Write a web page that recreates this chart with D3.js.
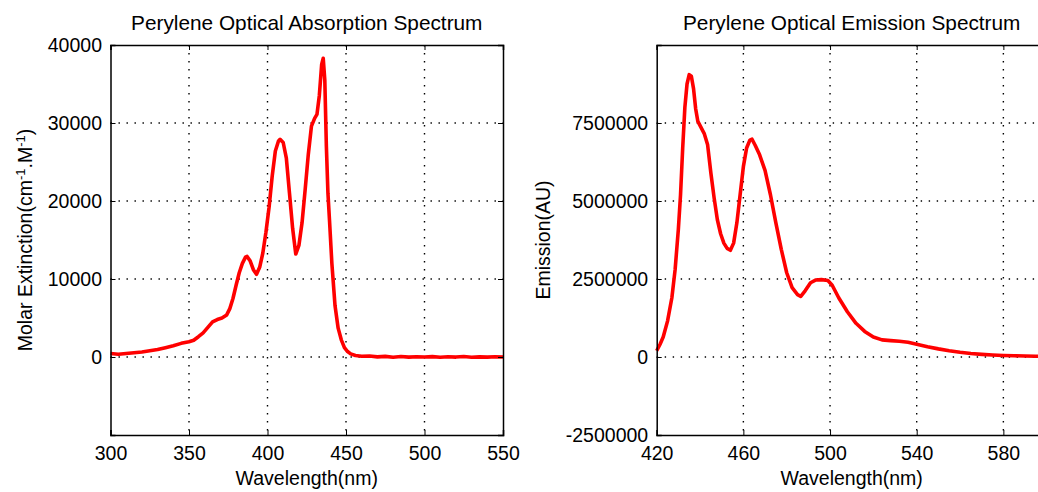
<!DOCTYPE html>
<html>
<head>
<meta charset="utf-8">
<script src="https://cdn.jsdelivr.net/npm/d3@7"></script>
<style>
  html, body { margin: 0; padding: 0; background: #fff; }
  svg { display: block; }
  text { font-family: "Liberation Sans", Arial, Helvetica, sans-serif; fill: #000; }
</style>
</head>
<body>
<svg id="chart" width="1038" height="492"></svg>
<script>
// ---------- Data ----------
const absWavelength = [300,305,310,315,320,325,330,335,340,345,350,353,356,359,362,365,368,371,374,376,378,380,382,384,386,387,389,391,393,395,397,399,401,403,405,407,408,410,412,414,416,418,420,422,424,426,428,430,431.5,433,434.5,435.5,436.5,437.5,438.5,439.5,441,443,445,447,449,451,453,456,460,465,470,475,480,485,490,495,500,505,510,515,520,525,530,535,540,545,550];
const absValue = [450,350,450,550,650,800,950,1200,1450,1750,1950,2150,2600,3100,3800,4500,4800,5000,5400,6200,7500,9200,10800,12000,12800,12900,12300,11200,10600,11500,13300,16000,19200,23200,26400,27700,27900,27500,25500,21000,16500,13200,14300,17200,21500,26000,29600,30600,31100,33500,37500,38300,35500,27000,21000,17500,12000,6600,3700,2200,1200,700,400,200,100,120,20,80,-30,60,-20,40,0,50,-40,30,-10,60,-30,20,-20,30,0];

const emWavelength = [420,421.5,423,425,427,428.5,430,431,432,433,434,435,436,437,438,439,440.5,442,443.5,445,446.5,448,449.5,451,452.5,454,455.5,457,458.5,460,461.5,463,464,465.5,467.5,470,472.5,475,477.5,480,482.5,485,486.5,488.5,491,493.5,496,499,501,504,508,512,516,520,524,528,532,536,540,545,550,555,560,565,570,575,580,585,590,595,600];
const emValue = [200000,400000,640000,1150000,1900000,2800000,4100000,5200000,6700000,8000000,8750000,9050000,9000000,8600000,7950000,7550000,7350000,7150000,6800000,5900000,5100000,4400000,3950000,3650000,3480000,3420000,3650000,4300000,5200000,6100000,6700000,6950000,6980000,6780000,6480000,5980000,5200000,4300000,3450000,2700000,2220000,2000000,1940000,2120000,2380000,2470000,2480000,2450000,2300000,1900000,1450000,1080000,820000,640000,550000,525000,505000,470000,410000,330000,260000,200000,150000,110000,85000,65000,50000,40000,32000,26000,20000];

const absXTicks = [300,350,400,450,500,550];
const absYTicks = [0,10000,20000,30000,40000];
const absYGrid = [0,10000,20000,30000];
const emXTicks = [420,460,500,540,580];
const emYTicks = [-2500000,0,2500000,5000000,7500000];
const emYGrid = [0,2500000,5000000,7500000];

const absTitle = "Perylene Optical Absorption Spectrum";
const emTitle = "Perylene Optical Emission Spectrum";
const xLabel = "Wavelength(nm)";

// ---------- Layout ----------
const svg = d3.select("#chart");
const plotTop = 45, plotBottom = 435;
const tickFont = 19.5, labelFont = 19.5, titleFont = 20.8;

function panel(opts) {
  const {x0, x1, xDomain, yDomain, xTicks, yTicks, yGrid, xs, ys, title} = opts;
  const x = d3.scaleLinear().domain(xDomain).range([x0, x1]);
  const y = d3.scaleLinear().domain(yDomain).range([plotBottom, plotTop]);
  const g = svg.append("g");

  // grid
  const grid = g.append("g")
    .attr("stroke", "#000").attr("stroke-width", 1.4)
    .attr("stroke-dasharray", "1.4,6.6").attr("fill", "none");
  grid.selectAll("line.vx").data(xTicks.filter(t => t !== xDomain[0] && t !== xDomain[1]))
    .join("line").attr("x1", d => x(d)).attr("x2", d => x(d))
    .attr("y1", plotTop).attr("y2", plotBottom);
  grid.selectAll("line.hy").data(yGrid)
    .join("line").attr("y1", d => y(d)).attr("y2", d => y(d))
    .attr("x1", x0).attr("x2", x1);

  // line
  const line = d3.line().x((d, i) => x(xs[i])).y((d, i) => y(ys[i]));
  g.append("path").datum(xs)
    .attr("d", line)
    .attr("fill", "none").attr("stroke", "#ff0000")
    .attr("stroke-width", 3.6).attr("stroke-linejoin", "round");

  // axes
  const fmt = d => String(d);
  const ax = g.append("g").attr("transform", `translate(0,${plotBottom})`)
    .call(d3.axisBottom(x).tickValues(xTicks).tickSize(-5).tickPadding(11).tickFormat(fmt));
  const at = g.append("g").attr("transform", `translate(0,${plotTop})`)
    .call(d3.axisTop(x).tickValues(xTicks).tickSize(-5).tickFormat(""));
  const ay = g.append("g").attr("transform", `translate(${x0},0)`)
    .call(d3.axisLeft(y).tickValues(yTicks).tickSize(-5).tickPadding(8.5).tickFormat(fmt));
  const ar = g.append("g").attr("transform", `translate(${x1},0)`)
    .call(d3.axisRight(y).tickValues(yTicks).tickSize(-5).tickFormat(""));
  [ax, at, ay, ar].forEach(a => {
    a.select(".domain").attr("stroke", "#000").attr("stroke-width", 1.5);
    a.selectAll(".tick line").attr("stroke", "#000").attr("stroke-width", 1);
    a.selectAll("text").style("font-size", tickFont + "px")
      .style("font-family", '"Liberation Sans", Arial, sans-serif').attr("fill", "#000");
  });

  // title
  g.append("text").attr("x", (x0 + x1) / 2).attr("y", 30)
    .attr("text-anchor", "middle").style("font-size", titleFont + "px").text(title);
  // x label
  g.append("text").attr("x", (x0 + x1) / 2).attr("y", 485)
    .attr("text-anchor", "middle").style("font-size", labelFont + "px").text(xLabel);
  return g;
}

panel({x0: 110.5, x1: 503, xDomain: [300, 550], yDomain: [-10000, 40000],
  xTicks: absXTicks, yTicks: absYTicks, yGrid: absYGrid,
  xs: absWavelength, ys: absValue, title: absTitle});

panel({x0: 656.7, x1: 1046.7, xDomain: [420, 600], yDomain: [-2500000, 10000000],
  xTicks: emXTicks, yTicks: emYTicks, yGrid: emYGrid,
  xs: emWavelength, ys: emValue, title: emTitle});

// y labels
const yl = svg.append("text")
  .attr("transform", "translate(32,240) rotate(-90)")
  .attr("text-anchor", "middle").style("font-size", labelFont + "px");
yl.append("tspan").text("Molar Extinction(cm");
yl.append("tspan").attr("dy", -7).style("font-size", "13px").text("-1");
yl.append("tspan").attr("dy", 7).text(".M");
yl.append("tspan").attr("dy", -7).style("font-size", "13px").text("-1");
yl.append("tspan").attr("dy", 7).text(")");

svg.append("text")
  .attr("transform", "translate(550,240) rotate(-90)")
  .attr("text-anchor", "middle").style("font-size", labelFont + "px")
  .text("Emission(AU)");
</script>
</body>
</html>
